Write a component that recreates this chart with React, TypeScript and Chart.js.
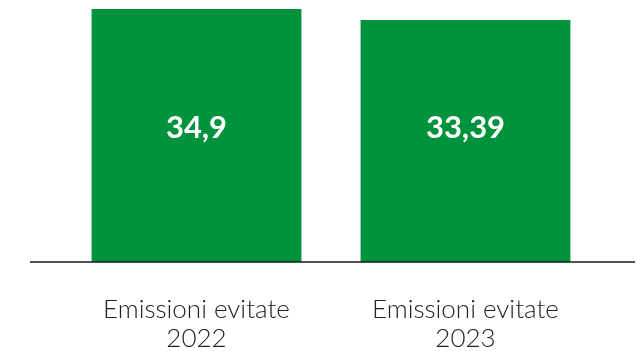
import React, { useEffect, useRef } from "react";
import { Chart, registerables } from "chart.js";

Chart.register(...registerables);

const categories: string[][] = [
  ["Emissioni evitate", "2022"],
  ["Emissioni evitate", "2023"],
];
const values: number[] = [34.9, 33.39];
const valueLabels: string[] = ["34,9", "33,39"];

const GREEN = "#00923C";

const valueLabelPlugin = {
  id: "valueLabels",
  afterDatasetsDraw(chart: any) {
    const { ctx, chartArea } = chart;
    const meta = chart.getDatasetMeta(0);
    ctx.save();
    ctx.fillStyle = "#ffffff";
    ctx.font = "bold 31px Lato";
    ctx.textAlign = "center";
    ctx.textBaseline = "middle";
    const y = chartArea.top + (chartArea.bottom - chartArea.top) * 0.47;
    meta.data.forEach((bar: any, i: number) => {
      ctx.fillText(valueLabels[i], bar.x, y);
    });
    ctx.restore();
  },
};

const baselinePlugin = {
  id: "baseline",
  afterDatasetsDraw(chart: any) {
    const { ctx, width } = chart;
    const y = chart.scales.y.getPixelForValue(0);
    ctx.save();
    ctx.strokeStyle = "#1a1a1a";
    ctx.lineWidth = 1.5;
    ctx.beginPath();
    ctx.moveTo(30, y);
    ctx.lineTo(width - 2, y);
    ctx.stroke();
    ctx.restore();
  },
};

export default function App() {
  const ref = useRef<HTMLCanvasElement | null>(null);
  useEffect(() => {
    if (!ref.current) return;
    const chart = new Chart(ref.current, {
      type: "bar",
      data: {
        labels: categories,
        datasets: [
          {
            data: values,
            backgroundColor: GREEN,
            borderWidth: 0,
            categoryPercentage: 1,
            barPercentage: 0.78,
          },
        ],
      },
      options: {
        animation: false,
        responsive: false,
        maintainAspectRatio: false,
        layout: { padding: { top: 9, left: 62, right: 37, bottom: 0 } },
        plugins: {
          legend: { display: false },
          tooltip: { enabled: false },
        },
        scales: {
          x: {
            grid: { display: false, drawTicks: false },
            border: { display: false },
            ticks: {
              color: "#222222",
              font: { family: "Lato", size: 26, weight: "300", lineHeight: 1.12 },
              padding: 33,
              maxRotation: 0,
            },
            afterFit: (scale: any) => {
              scale.height = 89;
            },
          },
          y: {
            display: false,
            min: 0,
            max: 34.9,
          },
        },
      },
      plugins: [valueLabelPlugin, baselinePlugin],
    });
    return () => chart.destroy();
  }, []);
  return (
    <div style={{ position: "absolute", left: 0, top: 0, width: 637, height: 351 }}>
      <canvas ref={ref} width={637} height={351} style={{ width: 637, height: 351 }} />
    </div>
  );
}
